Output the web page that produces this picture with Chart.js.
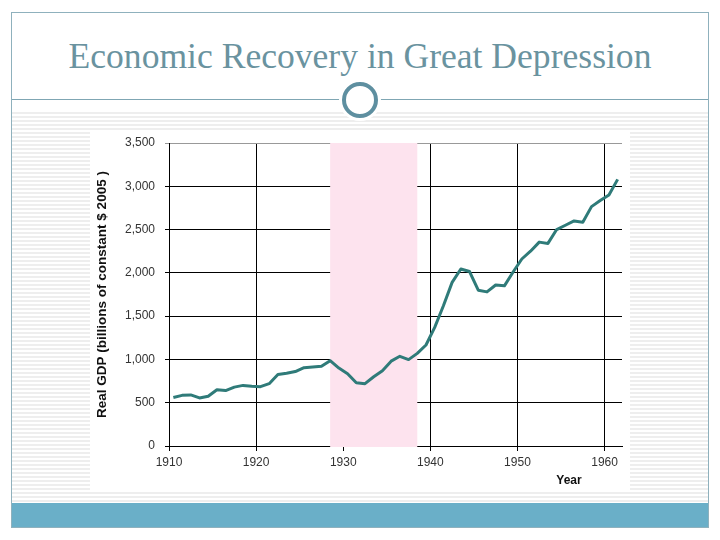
<!DOCTYPE html>
<html>
<head>
<meta charset="utf-8">
<title>Economic Recovery in Great Depression</title>
<script src="https://cdn.jsdelivr.net/npm/chart.js@4.4.1/dist/chart.umd.min.js"></script>
<style>
  html, body { margin: 0; padding: 0; background: #fff; }
  body { width: 720px; height: 540px; position: relative; overflow: hidden; }
  .frame { position: absolute; left: 11px; top: 12px; width: 698px; height: 516px;
           border: 1px solid #8fb1bd; box-sizing: border-box; }
  .stripes { position: absolute; left: 12px; top: 110px; width: 696px; height: 393px;
             background: repeating-linear-gradient(to bottom, #ffffff 0 2px, #eeeeee 2px 4px); }
  .title { position: absolute; left: 0; top: 38px; width: 720px; text-align: center;
           font: 35.6px/36px "Liberation Serif", "Times New Roman", serif; color: #6a939f; }
  .rule { position: absolute; left: 12px; top: 99px; width: 696px; height: 1px; background: #7fa6b3; }
  .ring { position: absolute; left: 342px; top: 82px; width: 36px; height: 36px; box-sizing: border-box;
          border: 4px solid #5e8fa0; border-radius: 50%; background: #fff; box-shadow: 0 0 0 3px #fff; }
  .footer { position: absolute; left: 12px; top: 503px; width: 696px; height: 24px; background: #6aafc8; }
  .chart-box { position: absolute; left: 90px; top: 130px; width: 540px; height: 360px; background: #fff; }
</style>
</head>
<body>
<div class="frame"></div>
<div class="stripes"></div>
<div class="title">Economic Recovery in Great Depression</div>
<div class="rule"></div>
<div class="ring"></div>
<div class="footer"></div>
<div class="chart-box"><canvas id="gdpChart" width="540" height="360"></canvas></div>

<script>
// annual real GDP, billions of constant 2005 dollars
const years = [
  1911, 1912, 1913, 1914, 1915, 1916, 1917, 1918, 1919, 1920,
  1921, 1922, 1923, 1924, 1925, 1926, 1927, 1928, 1929, 1930,
  1931, 1932, 1933, 1934, 1935, 1936, 1937, 1938, 1939, 1940,
  1941, 1942, 1943, 1944, 1945, 1946, 1947, 1948, 1949, 1950,
  1951, 1952, 1953, 1954, 1955, 1956, 1957, 1958, 1959, 1960,
  1961, 1962
];
const gdp = [
  560, 585, 590, 555, 575, 650, 640, 680, 700, 690,
  685, 720, 827, 840, 860, 905, 912, 920, 985, 900,
  835, 730, 720, 800, 870, 980, 1036, 998, 1070, 1167,
  1370, 1620, 1890, 2045, 2015, 1800, 1780, 1860, 1850, 2010,
  2160, 2250, 2355, 2340, 2500, 2550, 2600, 2585, 2765, 2835,
  2900, 3080
];
const xTicks = [1910, 1920, 1930, 1940, 1950, 1960];
const yTicks = [0, 500, 1000, 1500, 2000, 2500, 3000, 3500];
const depression = [1929, 1939];

// each year's value sits half a year before its label on the source chart
const yearShift = -0.5;

const tickFont = { family: "'Liberation Sans', Arial, sans-serif", size: 12 };

const depressionBand = {
  id: "depressionBand",
  beforeDatasetsDraw(chart) {
    const { ctx, chartArea, scales } = chart;
    const x0 = scales.x.getPixelForValue(depression[0] + yearShift);
    const x1 = scales.x.getPixelForValue(depression[1] + yearShift);
    ctx.save();
    ctx.fillStyle = "#fde3ee";
    ctx.fillRect(x0, chartArea.top, x1 - x0, chartArea.bottom - chartArea.top + 1);
    ctx.restore();
  },
  afterDraw(chart) {
    const { ctx, chartArea } = chart;
    ctx.save();
    ctx.fillStyle = "#111";
    ctx.font = "bold 12px 'Liberation Sans', Arial, sans-serif";
    ctx.textAlign = "center";
    ctx.textBaseline = "middle";
    ctx.fillText("Year", chartArea.right - 53, chartArea.bottom + 35);
    ctx.restore();
  },
};

const ctx = document.getElementById("gdpChart").getContext("2d");

new Chart(ctx, {
  type: "line",
  data: {
    datasets: [
      {
        data: years.map((yr, i) => ({ x: yr + yearShift, y: gdp[i] })),
        borderColor: "#2f7b79",
        borderWidth: 3,
        borderJoinStyle: "round",
        pointRadius: 0,
        tension: 0,
        fill: false,
      },
    ],
  },
  options: {
    responsive: false,
    animation: false,
    layout: { padding: { top: 13, right: 8, left: 0, bottom: 0 } },
    plugins: {
      legend: { display: false },
      tooltip: { enabled: false },
    },
    scales: {
      x: {
        type: "linear",
        min: 1910,
        max: 1962,
        afterBuildTicks: (scale) => {
          scale.ticks = xTicks.map((v) => ({ value: v }));
        },
        afterFit: (scale) => {
          scale.height = 44;
        },
        grid: { color: "#000", lineWidth: 1, tickLength: 5 },
        border: { color: "#000", width: 1 },
        ticks: {
          color: "#333",
          font: tickFont,
          padding: 4,
          maxRotation: 0,
          callback: (v) => String(v),
        },
      },
      y: {
        min: 0,
        max: 3500,
        afterBuildTicks: (scale) => {
          scale.ticks = yTicks.map((v) => ({ value: v }));
        },
        afterFit: (scale) => {
          scale.width = 79;
          scale.paddingTop = 0;
          scale.paddingBottom = 0;
        },
        grid: {
          color: (c) => (c.tick && c.tick.value === 3500 ? "#999" : "#000"),
          lineWidth: 1,
          tickLength: 4,
        },
        border: { color: "#000", width: 1 },
        ticks: {
          color: "#333",
          font: tickFont,
          padding: 10,
          callback: (v) => v.toLocaleString("en-US"),
        },
        title: {
          display: true,
          text: "Real GDP (billions of constant $ 2005 )",
          color: "#111",
          font: { family: "'Liberation Sans', Arial, sans-serif", size: 13.5, weight: "bold" },
          padding: { top: 4, bottom: 0 },
        },
      },
    },
  },
  plugins: [depressionBand],
});
</script>
</body>
</html>
